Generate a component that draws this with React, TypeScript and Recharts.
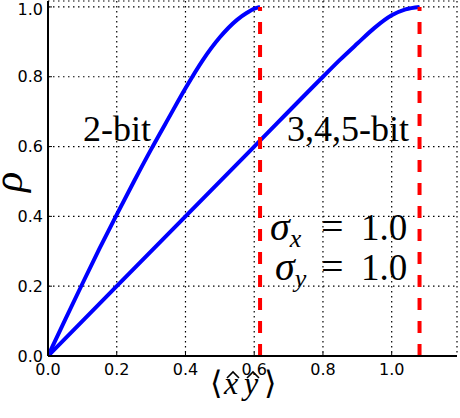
import { LineChart, Line, XAxis, YAxis, CartesianGrid, ReferenceLine } from "recharts";

const X_TICKS = [0, 0.2, 0.4, 0.6, 0.8, 1.0];
const Y_TICKS = [0, 0.2, 0.4, 0.6, 0.8, 1.0];

// 2-bit curve
const TWO_BIT_X = [0, 0.05, 0.1, 0.15, 0.2, 0.25, 0.3, 0.35, 0.4, 0.45, 0.5, 0.55, 0.58, 0.6, 0.617];
const TWO_BIT_Y = [0, 0.104, 0.207, 0.308, 0.405, 0.5, 0.592, 0.68, 0.767, 0.847, 0.913, 0.963, 0.984, 0.995, 1.0];

// 3,4,5-bit curve
const MULTI_BIT_X = [0, 0.2, 0.4, 0.6, 0.8, 0.85, 0.9, 0.95, 1.0, 1.04, 1.081];
const MULTI_BIT_Y = [0, 0.2, 0.4, 0.6, 0.8, 0.849, 0.895, 0.94, 0.976, 0.993, 1.0];

// dashed limits
const LIMITS = [0.617, 1.081];

const X_MAX = 1.19;
const Y_MAX = 1.017;

const twoBit = TWO_BIT_X.map((x, i) => ({ x, rho: TWO_BIT_Y[i] }));
const multiBit = MULTI_BIT_X.map((x, i) => ({ x, rho: MULTI_BIT_Y[i] }));

const fmt = (v: number) => v.toFixed(1);
const tickFont = { fill: "#000", fontSize: 16, fontFamily: "DejaVu Sans" };
const axisLine = { stroke: "#000", strokeWidth: 2 };
const tickLine = { stroke: "#000", strokeWidth: 1 };
const serif = "Liberation Serif, DejaVu Serif, serif";

export default function App() {
  return (
    <div style={{ position: "absolute", left: 0, top: 0, width: 460, height: 418, background: "#fff" }}>
      <LineChart width={460} height={418} margin={{ top: 1, right: 3, bottom: 0, left: 0 }}>
        <CartesianGrid stroke="#000" strokeWidth={1.2} strokeDasharray="1.5 3.5" />
        <XAxis
          dataKey="x"
          type="number"
          domain={[0, X_MAX]}
          ticks={X_TICKS}
          tickFormatter={fmt}
          height={62}
          axisLine={axisLine}
          tickLine={tickLine}
          tickSize={-4}
          tickMargin={12}
          tick={tickFont}
          allowDataOverflow
        />
        <XAxis
          xAxisId="top"
          orientation="top"
          type="number"
          domain={[0, X_MAX]}
          ticks={X_TICKS}
          tickFormatter={() => ""}
          height={0}
          axisLine={axisLine}
          tickLine={tickLine}
          tickSize={-4}
          allowDataOverflow
        />
        <YAxis
          type="number"
          domain={[0, Y_MAX]}
          ticks={Y_TICKS}
          tickFormatter={fmt}
          width={48}
          axisLine={axisLine}
          tickLine={tickLine}
          tickSize={-4}
          tickMargin={9}
          tick={tickFont}
          allowDataOverflow
        />
        <YAxis
          yAxisId="right"
          orientation="right"
          type="number"
          domain={[0, Y_MAX]}
          ticks={Y_TICKS}
          tickFormatter={() => ""}
          width={0}
          axisLine={axisLine}
          tickLine={tickLine}
          tickSize={-4}
          allowDataOverflow
        />
        <Line data={twoBit} dataKey="rho" type="monotone" stroke="#0000ff" strokeWidth={4} dot={false} isAnimationActive={false} />
        <Line data={multiBit} dataKey="rho" type="monotone" stroke="#0000ff" strokeWidth={4} dot={false} isAnimationActive={false} />
        {LIMITS.map((v) => (
          <ReferenceLine
            key={v}
            segment={[{ x: v, y: 0 }, { x: v, y: 1 }]}
            stroke="#ff0000"
            strokeWidth={4}
            strokeDasharray="12 11"
            ifOverflow="visible"
          />
        ))}
      </LineChart>
      <svg width={460} height={418} style={{ position: "absolute", left: 0, top: 0, pointerEvents: "none" }}>
        <text x={83} y={141} fontFamily={serif} fontSize={36} fill="#000">2-bit</text>
        <text x={287} y={141} fontFamily={serif} fontSize={36} fill="#000">3,4,5-bit</text>

        {/* sigma annotations */}
        <text y={240} fontFamily={serif} fill="#000">
          <tspan x={270} fontStyle="italic" fontSize={40}>σ</tspan>
          <tspan fontStyle="italic" fontSize={26} dy={7}>x</tspan>
          <tspan x={321} dy={-7} fontSize={40}>=</tspan>
          <tspan x={361} fontSize={37}>1.0</tspan>
        </text>
        <text y={280} fontFamily={serif} fill="#000">
          <tspan x={275} fontStyle="italic" fontSize={40}>σ</tspan>
          <tspan fontStyle="italic" fontSize={26} dy={7}>y</tspan>
          <tspan x={321} dy={-7} fontSize={40}>=</tspan>
          <tspan x={361} fontSize={37}>1.0</tspan>
        </text>

        {/* x label: <x^ y^> */}
        <text x={210} y={394} fontFamily={serif} fontSize={32} fill="#000">⟨</text>
        <text x={224} y={394} fontFamily={serif} fontStyle="italic" fontSize={32} fill="#000">x</text>
        <text x={244} y={394} fontFamily={serif} fontStyle="italic" fontSize={32} fill="#000">y</text>
        <text x={264} y={394} fontFamily={serif} fontSize={32} fill="#000">⟩</text>
        <path d="M227 378 L233 372 L239 378" fill="none" stroke="#000" strokeWidth={1.6} />
        <path d="M247 378 L253 372 L259 378" fill="none" stroke="#000" strokeWidth={1.6} />

        <text x={22} y={182} textAnchor="middle" transform="rotate(-90 22 182)" fontFamily={serif} fontStyle="italic" fontSize={42} fill="#000">
          ρ
        </text>
      </svg>
    </div>
  );
}
